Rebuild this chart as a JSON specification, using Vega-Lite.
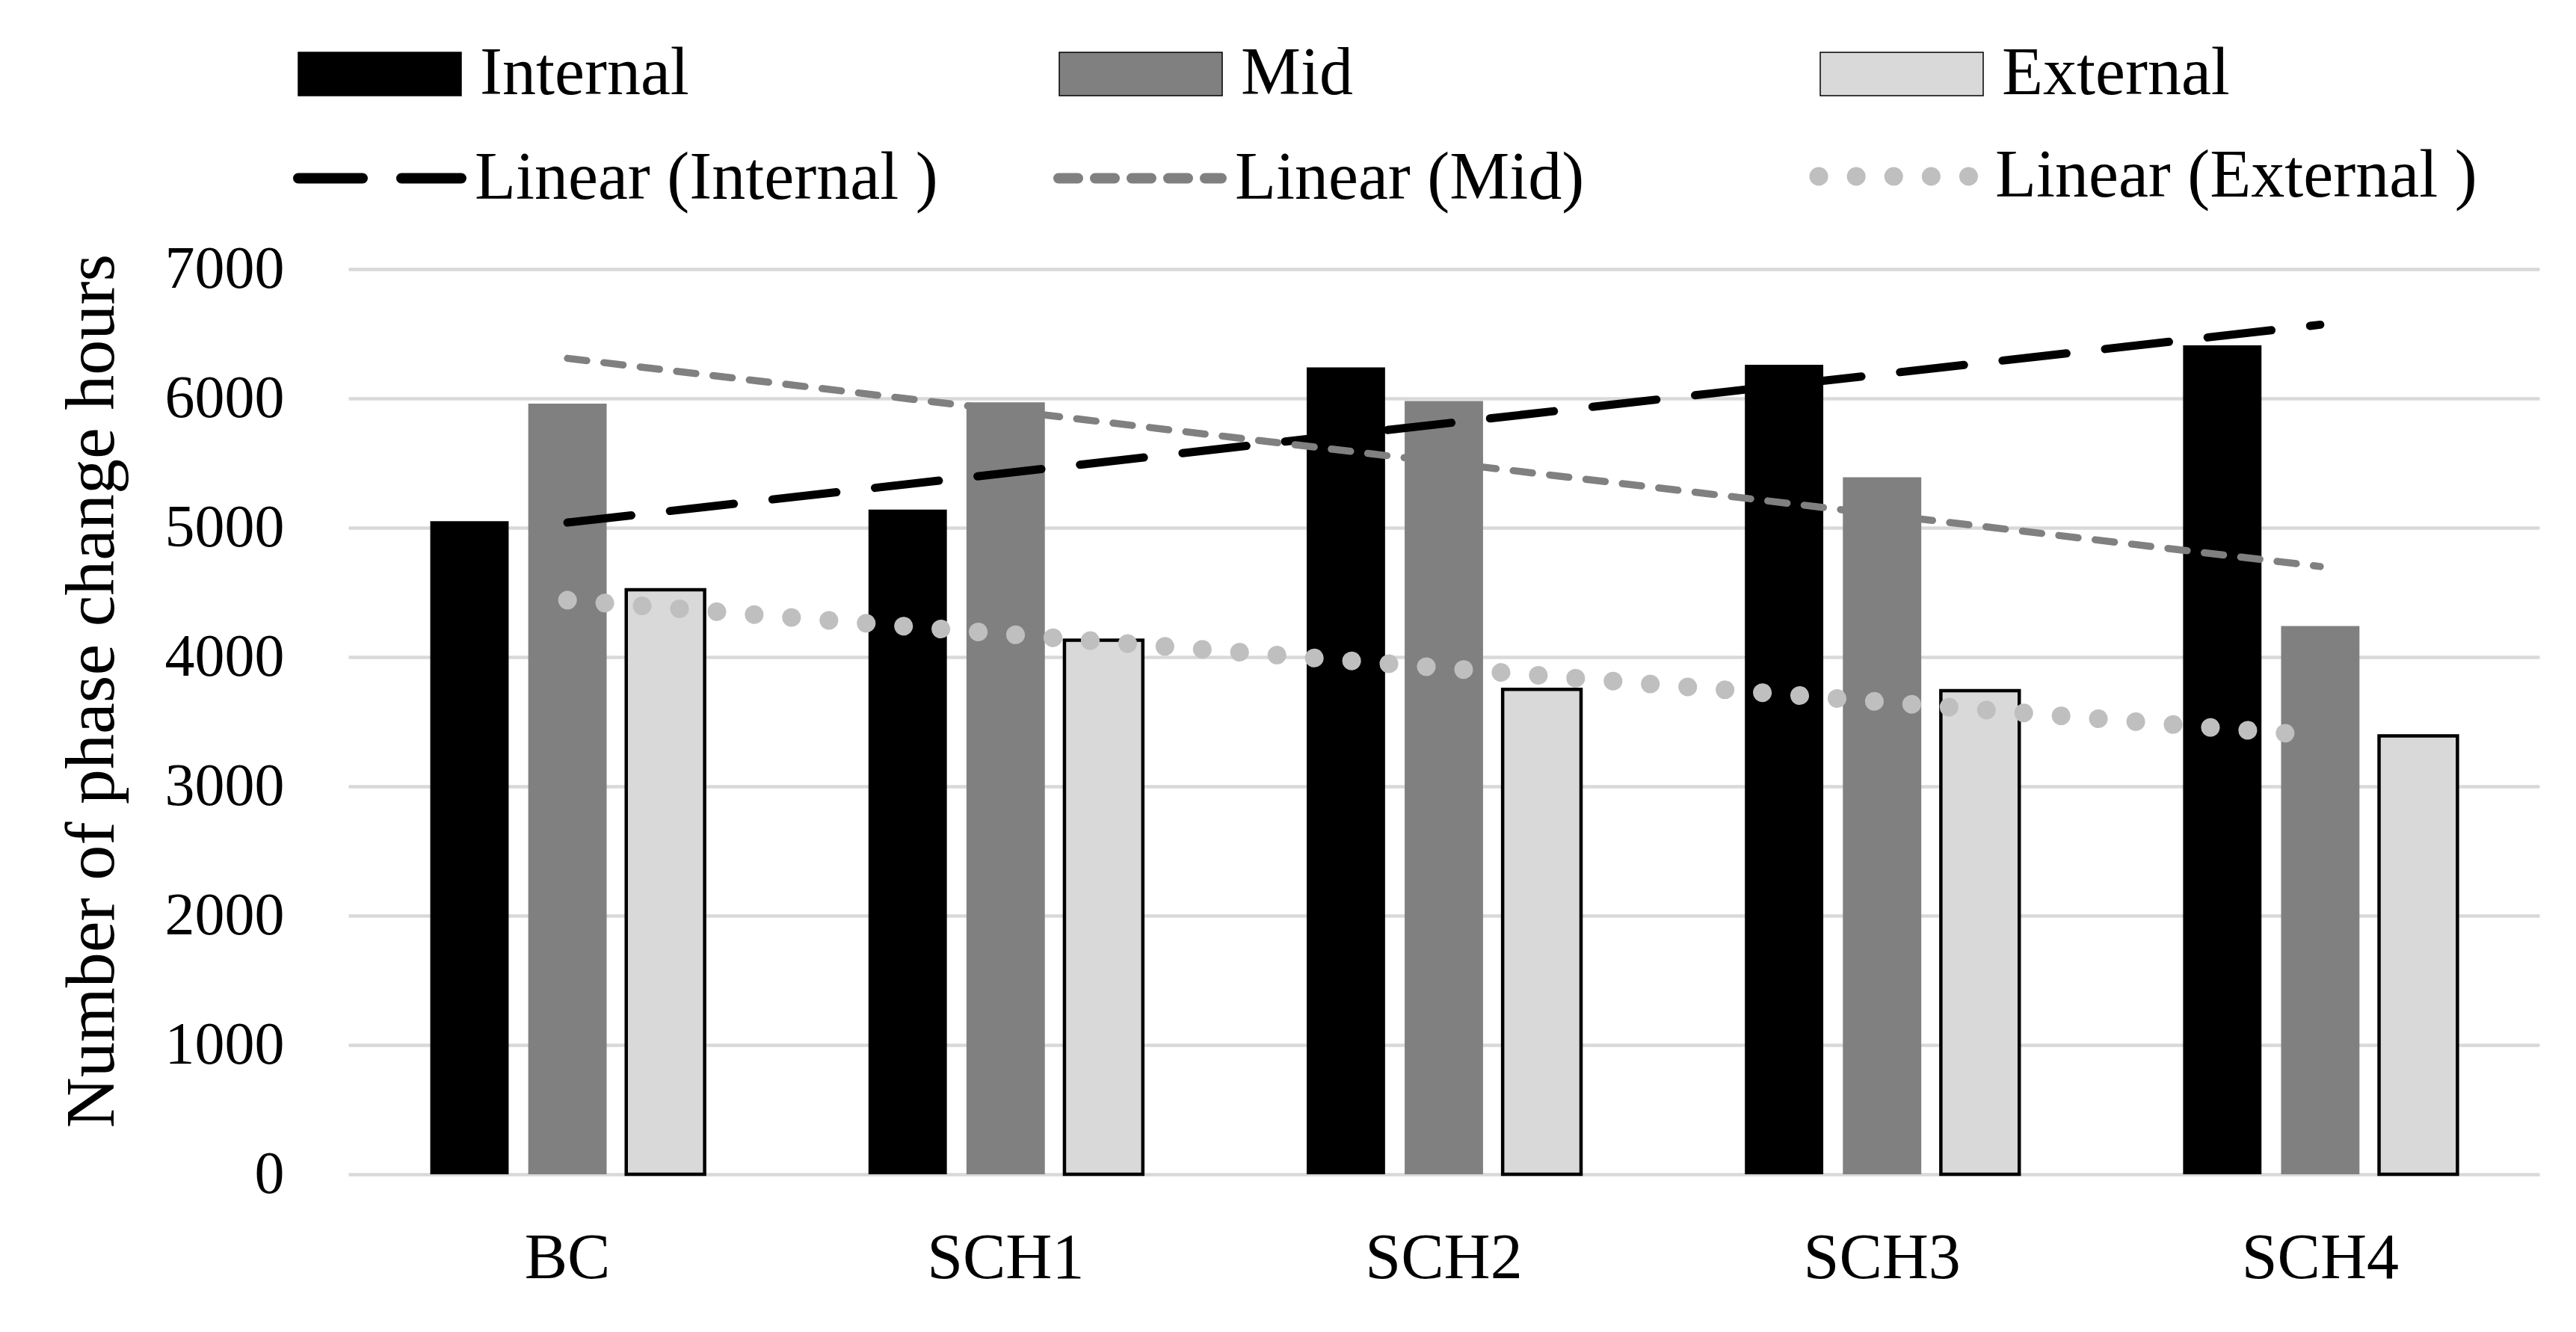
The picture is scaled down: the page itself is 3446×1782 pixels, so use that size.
{
  "$schema": "https://vega.github.io/schema/vega-lite/v6.json",
  "width": 2931,
  "height": 1211,
  "autosize": {"type": "none"},
  "padding": {"left": 466, "top": 360, "right": 49, "bottom": 211},
  "background": "white",
  "config": {
    "view": {"stroke": null},
    "font": "Liberation Serif",
    "axis": {"labelFont": "Liberation Serif", "titleFont": "Liberation Serif", "labelColor": "#000000", "titleColor": "#000000"},
    "legend": {"labelFont": "Liberation Serif", "labelColor": "#000000"}
  },
  "datasets": {
    "bars": [
      {"cat": "BC", "series": "Internal", "value": 5050},
      {"cat": "BC", "series": "Mid", "value": 5960},
      {"cat": "BC", "series": "External", "value": 4520},
      {"cat": "SCH1", "series": "Internal", "value": 5140},
      {"cat": "SCH1", "series": "Mid", "value": 5970},
      {"cat": "SCH1", "series": "External", "value": 4130},
      {"cat": "SCH2", "series": "Internal", "value": 6240},
      {"cat": "SCH2", "series": "Mid", "value": 5980},
      {"cat": "SCH2", "series": "External", "value": 3750},
      {"cat": "SCH3", "series": "Internal", "value": 6260},
      {"cat": "SCH3", "series": "Mid", "value": 5390},
      {"cat": "SCH3", "series": "External", "value": 3740},
      {"cat": "SCH4", "series": "Internal", "value": 6410},
      {"cat": "SCH4", "series": "Mid", "value": 4240},
      {"cat": "SCH4", "series": "External", "value": 3390}
    ],
    "trends": [
      {"cat": "BC", "trend": "Linear (Internal )", "value": 5040},
      {"cat": "SCH4", "trend": "Linear (Internal )", "value": 6570},
      {"cat": "BC", "trend": "Linear (Mid)", "value": 6310},
      {"cat": "SCH4", "trend": "Linear (Mid)", "value": 4700},
      {"cat": "BC", "trend": "Linear (External )", "value": 4440},
      {"cat": "SCH4", "trend": "Linear (External )", "value": 3390}
    ]
  },
  "layer": [
    {
      "data": {"name": "bars"},
      "mark": {"type": "bar", "stroke": "#000000", "fillOpacity": 1},
      "encoding": {
        "x": {
          "field": "cat", "type": "nominal",
          "scale": {"domain": ["BC", "SCH1", "SCH2", "SCH3", "SCH4"], "paddingInner": 0, "paddingOuter": 0},
          "axis": {"title": null, "domain": false, "ticks": false, "tickSize": 0, "labelAngle": 0, "labelFontSize": 86, "labelBaseline": "alphabetic", "labelPadding": 138, "labelLimit": 2000, "grid": false}
        },
        "xOffset": {
          "field": "series", "type": "nominal",
          "scale": {"domain": ["Internal", "Mid", "External"], "paddingInner": 0.2, "paddingOuter": 0.836}
        },
        "y": {
          "field": "value", "type": "quantitative",
          "scale": {"domain": [0, 7000], "nice": false},
          "axis": {
            "title": "Number of phase change hours",
            "values": [0, 1000, 2000, 3000, 4000, 5000, 6000, 7000],
            "format": "d",
            "domain": false, "ticks": false, "tickSize": 0,
            "labelFontSize": 80, "labelPadding": 86, "labelLimit": 2000,
            "grid": true, "gridColor": "#d9d9d9", "gridWidth": 4.5,
            "titleFontSize": 94, "titleFontWeight": "normal",
            "titleAngle": -90, "titleBaseline": "alphabetic", "titleAlign": "center",
            "titleX": -315, "titleY": 564
          }
        },
        "fill": {
          "field": "series", "type": "nominal",
          "scale": {"domain": ["Internal", "Mid", "External"], "range": ["#000000", "#808080", "#d9d9d9"]},
          "legend": {"orient": "none", "legendX": -68, "legendY": -371, "direction": "horizontal", "columns": 3, "title": null,
            "symbolType": "M-1,-0.266H1V0.266H-1Z", "symbolSize": 47524,
            "labelFontSize": 90, "labelLimit": 2000, "labelOffset": 24, "columnPadding": 467, "gridAlign": "all",
            "encode": {"symbols": {"update": {
              "stroke": {"signal": "datum.value === 'External' ? '#000000' : 'transparent'"},
              "strokeWidth": {"value": 5}
            }}}}
        },
        "strokeWidth": {
          "condition": {"test": "datum.series === 'External'", "value": 4.5},
          "value": 0
        }
      }
    },
    {
      "data": {"name": "trends"},
      "mark": {"type": "line", "strokeCap": "round"},
      "encoding": {
        "x": {"field": "cat", "type": "nominal"},
        "y": {"field": "value", "type": "quantitative"},
        "stroke": {
          "field": "trend", "type": "nominal",
          "scale": {"domain": ["Linear (Internal )", "Linear (Mid)", "Linear (External )"], "range": ["#000000", "#808080", "#bfbfbf"]},
          "legend": {"orient": "none", "legendX": -3, "legendY": -169, "direction": "horizontal", "columns": 3, "title": null,
            "symbolType": "stroke", "symbolSize": 47524,
            "labelFontSize": 90, "labelLimit": 2000, "labelOffset": 82, "columnPadding": 86, "gridAlign": "all",
            "encode": {"symbols": {"update": {
              "strokeCap": {"value": "round"},
              "strokeWidth": {"signal": "datum.value === 'Linear (External )' ? 25 : 14"}
            }}}}
        },
        "strokeDash": {
          "field": "trend", "type": "nominal",
          "scale": {"domain": ["Linear (Internal )", "Linear (Mid)", "Linear (External )"], "range": [[86, 52], [26, 23], [0.1, 50]]},
          "legend": {"orient": "none", "legendX": -3, "legendY": -169, "direction": "horizontal", "columns": 3, "title": null,
            "symbolType": "stroke", "symbolSize": 47524,
            "labelFontSize": 90, "labelLimit": 2000, "labelOffset": 82, "columnPadding": 86, "gridAlign": "all",
            "encode": {"symbols": {"update": {
              "strokeCap": {"value": "round"},
              "strokeWidth": {"signal": "datum.value === 'Linear (External )' ? 25 : 14"}
            }}}}
        },
        "strokeWidth": {
          "condition": [
            {"test": "datum.trend === 'Linear (External )'", "value": 25},
            {"test": "datum.trend === 'Linear (Mid)'", "value": 9.5}
          ],
          "value": 11
        }
      }
    }
  ]
}
